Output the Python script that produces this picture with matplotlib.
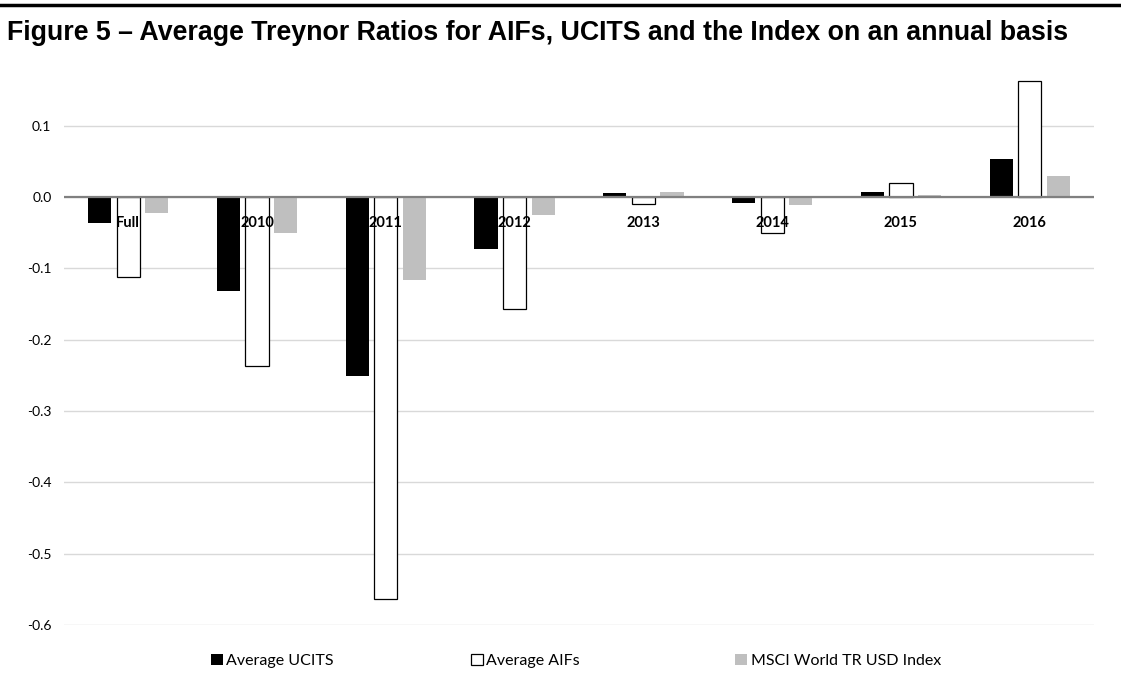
import numpy as np
import matplotlib.pyplot as plt
from matplotlib.lines import Line2D

categories = ['Full', '2010', '2011', '2012', '2013', '2014', '2015', '2016']
ucits = [-0.037, -0.132, -0.251, -0.073, 0.005, -0.009, 0.007, 0.053]
aifs = [-0.112, -0.237, -0.564, -0.157, -0.010, -0.051, 0.020, 0.162]
msci = [-0.023, -0.050, -0.117, -0.025, 0.007, -0.011, 0.002, 0.030]
yticks = [-0.6, -0.5, -0.4, -0.3, -0.2, -0.1, 0.0, 0.1]

plt.rcParams['font.family'] = ['Lato', 'DejaVu Sans']

fig = plt.figure(figsize=(11.21, 6.8), dpi=100)
ax = fig.add_axes([0.057, 0.081, 0.919, 0.813])

x = np.arange(len(categories))
w = 0.18
step = 0.222
b1 = ax.bar(x - step, ucits, w, color='black', label='Average UCITS')
b2 = ax.bar(x, aifs, w, color='white', edgecolor='black', linewidth=0.9, label='Average AIFs')
b3 = ax.bar(x + step, msci, w, color='#bfbfbf', label='MSCI World TR USD Index')

ax.set_xlim(-0.5, len(categories) - 0.5)
ax.set_ylim(-0.6, 0.175)
ax.set_yticks(yticks)
ax.set_yticklabels(['%.1f' % v for v in yticks], fontsize=10)
ax.set_xticks([])
ax.tick_params(axis='y', length=0, pad=9)
ax.yaxis.grid(True, color='#d9d9d9', linewidth=1)
ax.set_axisbelow(True)
for s in ax.spines.values():
    s.set_visible(False)
ax.axhline(0, color='#808080', linewidth=1.6, zorder=1)

# category labels sit just under the zero line
for xi, c in zip(x, categories):
    ax.annotate(c, (xi, 0), xytext=(0, -26), textcoords='offset pixels',
                ha='center', va='center', fontsize=10.5, fontweight='bold', zorder=5)

# legend entries spaced like the original (equal slots)
for h, xpos in zip([b1, b2, b3], [0.188, 0.420, 0.656]):
    fig.legend(handles=[h], loc='center left', bbox_to_anchor=(xpos, 0.028),
               frameon=False, fontsize=11.5, handlelength=0.75, handleheight=0.75,
               handletextpad=0.2, borderpad=0, borderaxespad=0)

fig.add_artist(Line2D([0, 1], [0.993, 0.993], color='black', linewidth=2.5))
fig.text(0.006, 0.952, 'Figure 5 \u2013 Average Treynor Ratios for AIFs, UCITS and the Index on an annual basis',
         fontsize=19.3, fontweight='bold', va='center', ha='left',
         family=['Liberation Sans Narrow', 'Liberation Sans', 'DejaVu Sans'])

fig.savefig('out.png', dpi=100)
